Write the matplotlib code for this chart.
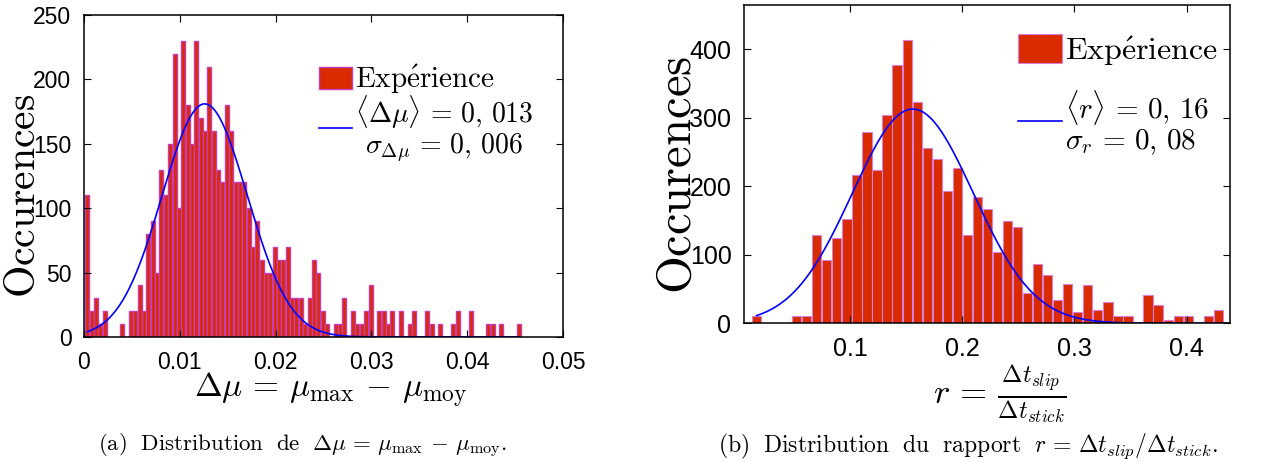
import numpy as np
import matplotlib
matplotlib.use("Agg")
import matplotlib.pyplot as plt

plt.rcParams['mathtext.fontset'] = 'cm'
plt.rcParams['font.family'] = 'Liberation Sans'

# (a) distribution of delta mu : 100 bins between first and last bin centre
dmu_first = 0.000355
dmu_last = 0.04537
dmu_counts = [110, 20, 30, 10, 20, 0, 0, 0, 10, 0,
              20, 20, 40, 20, 80, 90, 50, 130, 110, 150,
              220, 100, 230, 180, 150, 230, 170, 160, 210, 160,
              130, 120, 180, 160, 120, 120, 120, 100, 70, 90,
              60, 50, 50, 70, 60, 60, 70, 30, 30, 30,
              10, 30, 60, 50, 20, 10, 0, 10, 10, 30,
              0, 20, 10, 10, 20, 40, 0, 20, 20, 10,
              20, 0, 20, 0, 10, 20, 0, 0, 20, 10,
              0, 10, 0, 0, 10, 20, 0, 0, 20, 0,
              0, 0, 10, 10, 0, 10, 0, 0, 0, 10]
dmu_fit = (0.0126, 0.00445, 181)   # mean, sigma, peak of the gaussian fit

# (b) distribution of r = dt_slip / dt_stick
r_first = 0.01667
r_last = 0.4283
r_counts = [10, 0, 0, 0, 10, 10, 129, 93, 124, 152,
            216, 280, 224, 304, 377, 414, 323, 256, 240, 193,
            227, 129, 184, 167, 104, 149, 140, 44, 87, 71,
            34, 58, 16, 56, 20, 31, 10, 10, 0, 41,
            27, 5, 10, 10, 0, 10, 20]
r_fit = (0.156, 0.054, 313)

bar_face = '#D92A00'


def gauss(x, fit):
    m, s, a = fit
    return a * np.exp(-(x - m) ** 2 / (2 * s ** 2))


def histo(ax, first, last, counts, fit, xmax, edge, elw, legtxt, fs_leg, leg_kw):
    centers = np.linspace(first, last, len(counts))
    bw = centers[1] - centers[0]
    bars = ax.bar(centers, counts, width=bw * 0.92, color=bar_face,
                  edgecolor=edge, linewidth=elw)
    xs = np.linspace(first, xmax, 400)
    line, = ax.plot(xs, gauss(xs, fit), color='#0000FF', lw=1.2)
    ax.tick_params(direction='in', top=True, right=True, length=5, width=0.8)
    for s in ax.spines.values():
        s.set_linewidth(1.1)
    leg = ax.legend([bars, line], [r"$\mathrm{Exp\'erience}$", legtxt],
                    frameon=False, fontsize=fs_leg, borderpad=0,
                    borderaxespad=0, handletextpad=0.1, loc='upper left',
                    **leg_kw)
    return leg


fig = plt.figure(figsize=(12.64, 4.62), dpi=100)

# left panel
ax1 = fig.add_axes([84 / 1264, 125 / 462, 479 / 1264, 322 / 462])
leg1 = histo(ax1, dmu_first, dmu_last, dmu_counts, dmu_fit, dmu_last,
             '#C83CB8', 1.0,
             "$\\langle\\Delta\\mu\\rangle\\,=\\,0,\\,013$\n$\\sigma_{\\Delta\\mu}\\,=\\,0,\\,006$",
             21, dict(bbox_to_anchor=(0.49, 0.85), handlelength=1.13,
                      handleheight=0.79, labelspacing=-0.1))
for t in leg1.get_texts():
    t.set_multialignment('center')
    t.set_linespacing(1.0)
leg1.get_texts()[1].set_fontsize(20)
ax1.set_xlim(0, 0.05)
ax1.set_ylim(0, 250)
ax1.set_xticks([0, 0.01, 0.02, 0.03, 0.04, 0.05])
ax1.set_xticklabels(['0', '0.01', '0.02', '0.03', '0.04', '0.05'])
ax1.set_yticks([0, 50, 100, 150, 200, 250])
ax1.tick_params(axis='both', labelsize=16.5)
ax1.tick_params(axis='x', pad=10)
ax1.tick_params(axis='y', pad=9)
ax1.set_xlabel(r"$\Delta\mu\,=\,\mu_{\mathrm{max}}\,-\,\mu_{\mathrm{moy}}$", fontsize=24, labelpad=2)
ax1.xaxis.set_label_coords(0.514, -0.105)
fig.text(24 / 1264, 1 - 196 / 462, r"$\mathrm{Occurences}$", fontsize=30,
         rotation=90, ha='center', va='center')

# right panel
ax2 = fig.add_axes([744 / 1264, 138.7 / 462, 486 / 1264, 318.3 / 462])
leg2 = histo(ax2, r_first, r_last, r_counts, r_fit, 0.4387,
             '#D880D8', 0.8,
             "$\\langle r\\rangle\\,=\\,0,\\,16$\n$\\sigma_r\\,=\\,0,\\,08$",
             23, dict(bbox_to_anchor=(0.564, 0.91), handlelength=1.375,
                      handleheight=1.0, labelspacing=0.65))
for t in leg2.get_texts():
    t.set_linespacing(1.0)
leg2.get_texts()[1].set_fontsize(21)
ax2.set_xlim(0.0055, 0.4387)
ax2.set_ylim(0, 465)
ax2.set_xticks([0.1, 0.2, 0.3, 0.4])
ax2.set_xticklabels(['0.1', '0.2', '0.3', '0.4'])
ax2.set_yticks([0, 100, 200, 300, 400])
ax2.tick_params(axis='both', labelsize=18)
ax2.tick_params(axis='x', pad=10)
ax2.tick_params(axis='y', pad=9)
ax2.set_xlabel(r"$r\,=\,\frac{\Delta t_{slip}}{\Delta t_{stick}}$", fontsize=25, labelpad=2)
ax2.xaxis.set_label_coords(0.527, -0.122)
fig.text(678 / 1264, 1 - 175 / 462, r"$\mathrm{Occurences}$", fontsize=35,
         rotation=90, ha='center', va='center')

# captions
fig.text(302 / 1264, 1 - 446 / 462,
         r"$\mathrm{(a)\ \ Distribution\ \ de\ \ }\Delta\mu\,=\,\mu_{\mathrm{max}}\,-\,\mu_{\mathrm{moy}}.$",
         fontsize=16.5, ha='center', va='center')
fig.text(968 / 1264, 1 - 446 / 462,
         r"$\mathrm{(b)\ \ Distribution\ \ du\ \ rapport\ \ }r\,=\,\Delta t_{slip}/\Delta t_{stick}.$",
         fontsize=17, ha='center', va='center')

fig.savefig("out.png", dpi=100)
